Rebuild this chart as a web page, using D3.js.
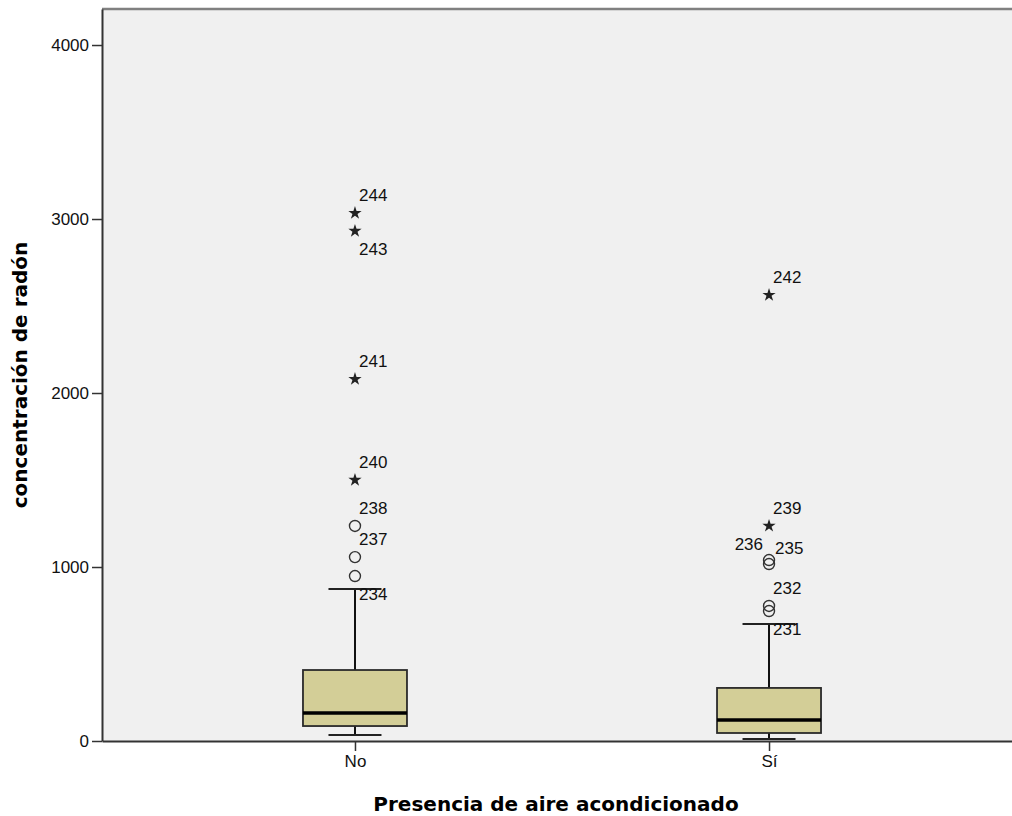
<!DOCTYPE html>
<html>
<head>
<meta charset="utf-8">
<script src="https://cdn.jsdelivr.net/npm/d3@7"></script>
<style>
  html, body { margin: 0; padding: 0; background: #ffffff; overflow: hidden; }
  svg { display: block; }
</style>
</head>
<body>
<svg id="chart" width="1012" height="816"></svg>
<script>
// Radon concentration by presence of air conditioning (box plot summary)
const categories = ["No", "Sí"];
const whiskerLow  = [34, 11];
const q1          = [86, 46];
const medians     = [161, 121];
const q3          = [408, 305];
const whiskerHigh = [874, 672];

// Outliers per group: case id, value, kind ("o" = outlier, "*" = extreme)
const outlierGroup = ["No", "No", "No", "No", "No", "No", "No",
                      "Sí", "Sí", "Sí", "Sí", "Sí", "Sí"];
const outlierId    = [244, 243, 241, 240, 238, 237, 234,
                      242, 239, 236, 235, 232, 231];
const outlierValue = [3034, 2931, 2080, 1500, 1236, 1057, 948,
                      2563, 1236, 1040, 1017, 776, 747];
const outlierKind  = ["*", "*", "*", "*", "o", "o", "o",
                      "*", "*", "o", "o", "o", "o"];

const yTicks = [0, 1000, 2000, 3000, 4000];
const yTitle = "concentración de radón";
const xTitle = "Presencia de aire acondicionado";

// ---- layout ----
const W = 1012;
const plot = { left: 102, top: 9, right: 1022, bottom: 741 };
const svg = d3.select("#chart");

const y = d3.scaleLinear().domain([0, 4207]).range([plot.bottom, plot.top]);
const x = d3.scalePoint().domain(categories)
  .range([plot.left, plot.right]).padding(0.611);

const boxW = 104, capW = 53;

// plot background
svg.append("rect")
  .attr("x", plot.left).attr("y", plot.top)
  .attr("width", W - plot.left).attr("height", plot.bottom - plot.top)
  .attr("fill", "#f0f0f0");

// top frame line
svg.append("line")
  .attr("x1", plot.left).attr("x2", W)
  .attr("y1", plot.top).attr("y2", plot.top)
  .attr("stroke", "#808080").attr("stroke-width", 2.5);

// y axis
const yAxis = d3.axisLeft(y).tickValues(yTicks).tickSize(10).tickSizeOuter(0)
  .tickPadding(3).tickFormat(d3.format("d"));
const gy = svg.append("g").attr("transform", `translate(${plot.left},0)`).call(yAxis);
gy.select(".domain").attr("stroke", "#333").attr("stroke-width", 2);
gy.selectAll(".tick line").attr("stroke", "#333").attr("stroke-width", 1.5);
gy.selectAll(".tick text")
  .attr("font-family", "'Liberation Sans', Arial, sans-serif")
  .attr("font-size", 17).attr("fill", "#111");

// x axis
const xAxis = d3.axisBottom(x).tickSize(10).tickPadding(4).tickSizeOuter(0);
const gx = svg.append("g").attr("transform", `translate(0,${plot.bottom})`).call(xAxis);
gx.select(".domain").attr("stroke", "#333").attr("stroke-width", 2);
gx.selectAll(".tick line").attr("stroke", "#333").attr("stroke-width", 1.5);
gx.selectAll(".tick text")
  .attr("font-family", "'Liberation Sans', Arial, sans-serif")
  .attr("font-size", 17).attr("fill", "#111");

// boxes
const groups = categories.map((c, i) => ({
  cat: c, lo: whiskerLow[i], q1: q1[i], med: medians[i], q3: q3[i], hi: whiskerHigh[i]
}));

const g = svg.append("g");
groups.forEach(d => {
  const cx = x(d.cat);
  // whiskers
  g.append("line").attr("x1", cx).attr("x2", cx)
    .attr("y1", y(d.hi)).attr("y2", y(d.q3))
    .attr("stroke", "#111").attr("stroke-width", 2);
  g.append("line").attr("x1", cx).attr("x2", cx)
    .attr("y1", y(d.q1)).attr("y2", y(d.lo))
    .attr("stroke", "#111").attr("stroke-width", 2);
  [d.hi, d.lo].forEach(v => {
    g.append("line").attr("x1", cx - capW / 2).attr("x2", cx + capW / 2)
      .attr("y1", y(v)).attr("y2", y(v))
      .attr("stroke", "#222").attr("stroke-width", 2);
  });
  // box
  g.append("rect")
    .attr("x", cx - boxW / 2).attr("y", y(d.q3))
    .attr("width", boxW).attr("height", y(d.q1) - y(d.q3))
    .attr("fill", "#d3ce97").attr("stroke", "#2a2a2a").attr("stroke-width", 1.8);
  // median
  g.append("line").attr("x1", cx - boxW / 2).attr("x2", cx + boxW / 2)
    .attr("y1", y(d.med)).attr("y2", y(d.med))
    .attr("stroke", "#000").attr("stroke-width", 3.5);
});

// outliers
const outliers = outlierId.map((id, i) => ({
  id, cat: outlierGroup[i], v: outlierValue[i], kind: outlierKind[i]
}));

// label placement relative to the marker
const labelSide = {244: "up", 243: "down", 241: "up", 240: "up", 238: "up", 237: "up", 234: "down",
                   242: "up", 239: "up", 236: "left", 235: "right", 232: "up", 231: "down"};

const star = d3.symbol().type(d3.symbolStar).size(55);
const og = svg.append("g");
outliers.forEach(d => {
  const cx = x(d.cat), cy = y(d.v);
  if (d.kind === "*") {
    og.append("path").attr("d", star).attr("transform", `translate(${cx},${cy})`)
      .attr("fill", "#222");
  } else {
    og.append("circle").attr("cx", cx).attr("cy", cy).attr("r", 5.5)
      .attr("fill", "none").attr("stroke", "#333").attr("stroke-width", 1.4);
  }
  const side = labelSide[d.id];
  let tx = cx + 4, ty = cy, anchor = "start";
  if (side === "up") ty = cy - 18;
  else if (side === "down") ty = cy + 18;
  else if (side === "left") { tx = cx - 6; ty = cy - 16; anchor = "end"; }
  else if (side === "right") { tx = cx + 6; ty = cy - 16; }
  og.append("text").attr("x", tx).attr("y", ty).attr("dy", "0.35em")
    .attr("text-anchor", anchor)
    .attr("font-family", "'Liberation Sans', Arial, sans-serif")
    .attr("font-size", 17).attr("fill", "#111")
    .text(d.id);
});

// axis titles
svg.append("text")
  .attr("x", (plot.left + 1010) / 2).attr("y", 811)
  .attr("text-anchor", "middle")
  .attr("font-family", "'DejaVu Sans', sans-serif").attr("font-weight", "bold")
  .attr("font-size", 20).attr("fill", "#000")
  .text(xTitle);

svg.append("text")
  .attr("transform", `translate(27,${(plot.top + plot.bottom) / 2}) rotate(-90)`)
  .attr("text-anchor", "middle")
  .attr("font-family", "'DejaVu Sans', sans-serif").attr("font-weight", "bold")
  .attr("font-size", 20).attr("fill", "#000")
  .text(yTitle);
</script>
</body>
</html>
